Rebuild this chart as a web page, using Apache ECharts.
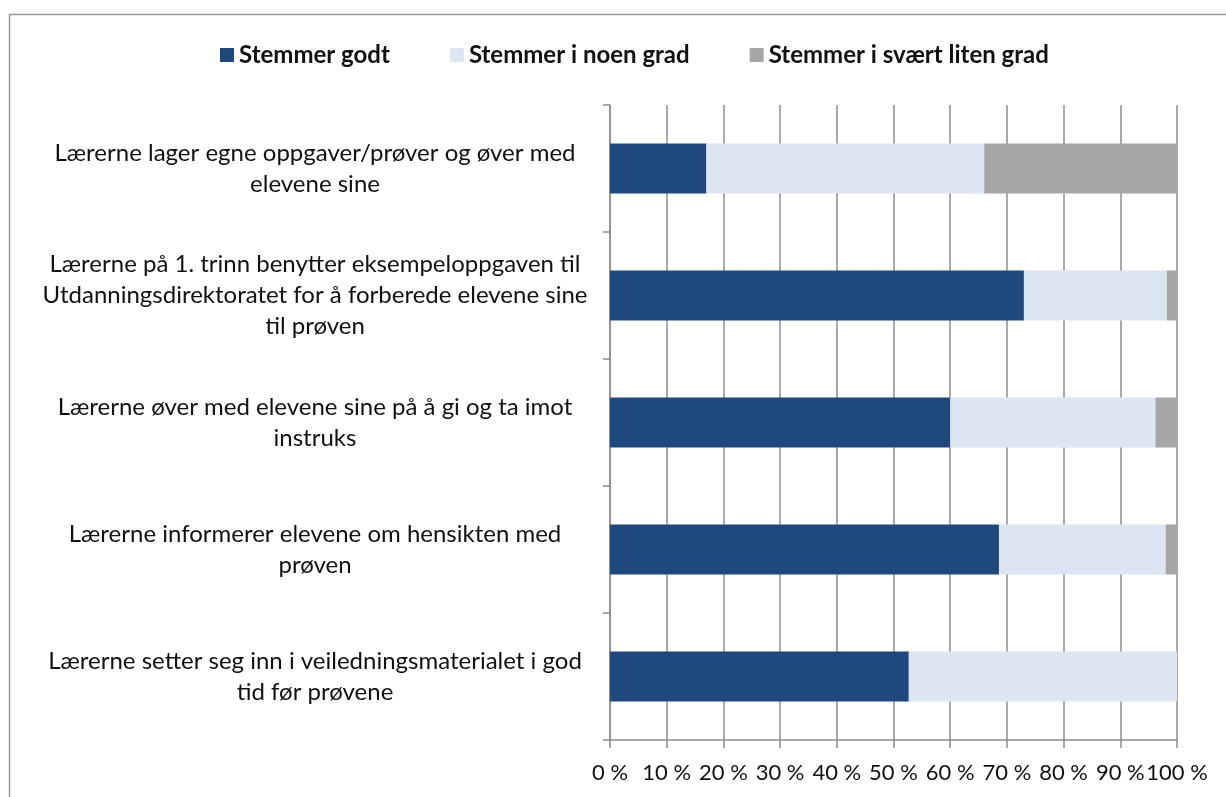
<!DOCTYPE html>
<html>
<head>
<meta charset="utf-8">
<script src="https://cdn.jsdelivr.net/npm/echarts@6/dist/echarts.min.js"></script>
<style>
  html, body { margin: 0; padding: 0; background: #fff; }
  #chart { width: 1226px; height: 797px; }
</style>
</head>
<body>
<div id="chart"></div>
<script>
  // utsagn (med linjeskift slik de står i figuren)
  const categories = [
    'Lærerne lager egne oppgaver/prøver og øver med\nelevene sine',
    'Lærerne på 1. trinn benytter eksempeloppgaven til\nUtdanningsdirektoratet for å forberede elevene sine\ntil prøven',
    'Lærerne øver med elevene sine på å gi og ta imot\ninstruks',
    'Lærerne informerer elevene om hensikten med\nprøven',
    'Lærerne setter seg inn i veiledningsmaterialet i god\ntid før prøvene'
  ];
  const seriesNames = ['Stemmer godt', 'Stemmer i noen grad', 'Stemmer i svært liten grad'];
  const godt = [17, 73, 60, 68.6, 52.7];
  const noenGrad = [49, 25.2, 36.2, 29.4, 47.3];
  const litenGrad = [34, 1.8, 3.8, 2, 0];

  const font = 'Lato, "Open Sans", sans-serif';
  const chart = echarts.init(document.getElementById('chart'));

  chart.setOption({
    animation: false,
    color: ['#1F497D', '#DCE6F2', '#A6A6A6'],
    graphic: [{
      type: 'rect',
      shape: { x: 9.5, y: 14.5, width: 1400, height: 1000 },
      style: { fill: 'none', stroke: '#999', lineWidth: 1.5 },
      silent: true
    }],
    legend: {
      data: seriesNames,
      top: 38,
      left: 215,
      icon: 'rect',
      itemWidth: 14,
      itemHeight: 14,
      itemGap: 60,
      textStyle: { fontFamily: font, fontSize: 24, fontWeight: 'bold', color: '#111' }
    },
    grid: { left: 610, right: 49, top: 105, bottom: 57 },
    xAxis: {
      type: 'value',
      min: 0,
      max: 100,
      interval: 10,
      axisLine: { show: true, lineStyle: { color: '#8c8c8c', width: 1.5 } },
      axisTick: { show: true, length: 8, lineStyle: { color: '#8c8c8c', width: 1.5 } },
      splitLine: { show: true, lineStyle: { color: '#8c8c8c', width: 1.5 } },
      axisLabel: {
        formatter: '{value} %',
        margin: 22,
        fontFamily: font,
        fontSize: 22,
        color: '#111',
        showMinLabel: true,
        showMaxLabel: true,
        hideOverlap: false
      }
    },
    yAxis: {
      type: 'category',
      inverse: true,
      data: categories,
      axisLine: { show: true, lineStyle: { color: '#8c8c8c', width: 1.5 } },
      axisTick: { show: true, length: 7, lineStyle: { color: '#8c8c8c', width: 1.5 } },
      axisLabel: {
        align: 'center',
        margin: 295,
        fontFamily: font,
        fontSize: 24,
        lineHeight: 31,
        color: '#111'
      }
    },
    series: [
      { name: seriesNames[0], type: 'bar', stack: 'tot', barWidth: 50, data: godt },
      { name: seriesNames[1], type: 'bar', stack: 'tot', barWidth: 50, data: noenGrad },
      { name: seriesNames[2], type: 'bar', stack: 'tot', barWidth: 50, data: litenGrad }
    ]
  });
</script>
</body>
</html>
